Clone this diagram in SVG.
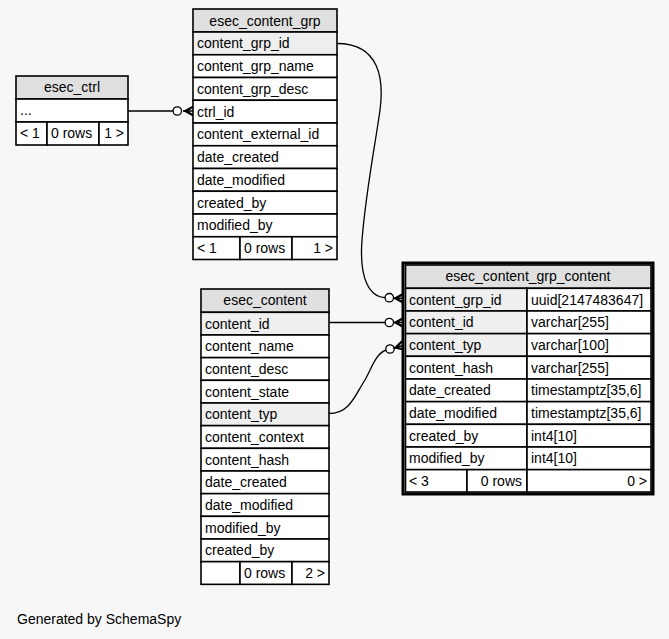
<svg xmlns="http://www.w3.org/2000/svg" xmlns:xlink="http://www.w3.org/1999/xlink" width="669" height="639" viewBox="0 0 669 639">
<style>
text{font-family:"Liberation Sans",Arial,Helvetica,sans-serif;font-size:14px;fill:#000}
.t{text-anchor:middle}
.e{text-anchor:end}
.h{fill:#e0e0e0;stroke:#000;stroke-width:1.6}
.k{fill:#efefef;stroke:#000;stroke-width:1.6}
.c{fill:#fff;stroke:#000;stroke-width:1.6}
.edge{fill:none;stroke:#000;stroke-width:1.3}
.o{fill:#fff;stroke:#000;stroke-width:1.3}
</style>
<defs>
<g id="crow">
<polygon points="-10,0 0,-5.5 0,-3 -5,0 0,3 0,5.5" fill="#000"/>
<line x1="-10" y1="0" x2="0" y2="0" stroke="#000" stroke-width="1.5"/>
</g>
</defs>
<rect x="0" y="0" width="669" height="639" fill="#f7f7f7"/>

<g id="connectors">
<path class="edge" d="M128,111 L177,111"/>
<circle class="o" cx="177.3" cy="111" r="4.2"/>
<use xlink:href="#crow" href="#crow" transform="translate(193,111)"/>

<path class="edge" d="M337,43.5 C380,43.5 384,80 380,110 C376,140 366,190 362,240 C359,280 370,297.5 386,297.7"/>
<circle class="o" cx="389.3" cy="297.7" r="4.2"/>
<use xlink:href="#crow" href="#crow" transform="translate(403,298.2)"/>

<path class="edge" d="M329,322.5 L389,322.5"/>
<circle class="o" cx="389.3" cy="322.5" r="4.2"/>
<use xlink:href="#crow" href="#crow" transform="translate(403,322.5)"/>

<path class="edge" d="M329,413.5 C350,413.5 355,395 365,380 C373,365 377,352 387,350"/>
<circle class="o" cx="390" cy="349" r="4.2"/>
<use xlink:href="#crow" href="#crow" transform="translate(403,345.5) rotate(-16)"/>
</g>

<g id="esec_ctrl">
<rect class="h" x="16" y="76" width="112" height="23"/>
<text class="t" x="72" y="92">esec_ctrl</text>
<rect class="c" x="16" y="99" width="112" height="23"/>
<text x="20" y="115">...</text>
<rect class="c" x="16" y="122" width="31" height="23"/>
<rect class="c" x="47" y="122" width="52" height="23"/>
<rect class="c" x="99" y="122" width="29" height="23"/>
<text x="20" y="138">&lt; 1</text>
<text x="51" y="138">0 rows</text>
<text class="e" x="124" y="138">1 &gt;</text>
</g>

<g id="esec_content_grp">
<rect class="h" x="193" y="9" width="144" height="23"/>
<text class="t" x="265" y="25.5">esec_content_grp</text>
<rect class="k" x="193" y="32" width="144" height="22.75"/>
<text x="197" y="48.4">content_grp_id</text>
<rect class="c" x="193" y="54.75" width="144" height="22.75"/>
<text x="197" y="71.1">content_grp_name</text>
<rect class="c" x="193" y="77.5" width="144" height="22.75"/>
<text x="197" y="93.9">content_grp_desc</text>
<rect class="c" x="193" y="100.25" width="144" height="22.75"/>
<text x="197" y="116.6">ctrl_id</text>
<rect class="c" x="193" y="123" width="144" height="22.75"/>
<text x="197" y="139.4">content_external_id</text>
<rect class="c" x="193" y="145.75" width="144" height="22.75"/>
<text x="197" y="162.1">date_created</text>
<rect class="c" x="193" y="168.5" width="144" height="22.75"/>
<text x="197" y="184.9">date_modified</text>
<rect class="c" x="193" y="191.25" width="144" height="22.75"/>
<text x="197" y="207.6">created_by</text>
<rect class="c" x="193" y="214" width="144" height="22.75"/>
<text x="197" y="230.4">modified_by</text>
<rect class="c" x="193" y="236.75" width="47" height="22.75"/>
<rect class="c" x="240" y="236.75" width="52" height="22.75"/>
<rect class="c" x="292" y="236.75" width="45" height="22.75"/>
<text x="197" y="253.1">&lt; 1</text>
<text x="244" y="253.1">0 rows</text>
<text class="e" x="333" y="253.1">1 &gt;</text>
</g>

<g id="esec_content">
<rect class="h" x="201" y="289" width="128" height="23.3"/>
<text class="t" x="265" y="305.2">esec_content</text>
<rect class="k" x="201" y="312.3" width="128" height="22.67"/>
<text x="205" y="328.6">content_id</text>
<rect class="c" x="201" y="334.97" width="128" height="22.67"/>
<text x="205" y="351.3">content_name</text>
<rect class="c" x="201" y="357.64" width="128" height="22.67"/>
<text x="205" y="374">content_desc</text>
<rect class="c" x="201" y="380.31" width="128" height="22.67"/>
<text x="205" y="396.6">content_state</text>
<rect class="k" x="201" y="402.98" width="128" height="22.67"/>
<text x="205" y="419.3">content_typ</text>
<rect class="c" x="201" y="425.65" width="128" height="22.67"/>
<text x="205" y="442">content_context</text>
<rect class="c" x="201" y="448.32" width="128" height="22.67"/>
<text x="205" y="464.7">content_hash</text>
<rect class="c" x="201" y="470.99" width="128" height="22.67"/>
<text x="205" y="487.3">date_created</text>
<rect class="c" x="201" y="493.66" width="128" height="22.67"/>
<text x="205" y="510">date_modified</text>
<rect class="c" x="201" y="516.33" width="128" height="22.67"/>
<text x="205" y="532.7">modified_by</text>
<rect class="c" x="201" y="539" width="128" height="22.67"/>
<text x="205" y="555.3">created_by</text>
<rect class="c" x="201" y="561.67" width="39" height="22.67"/>
<rect class="c" x="240" y="561.67" width="52" height="22.67"/>
<rect class="c" x="292" y="561.67" width="37" height="22.67"/>
<text x="244" y="578">0 rows</text>
<text class="e" x="325" y="578">2 &gt;</text>
</g>

<g id="esec_content_grp_content">
<rect x="403" y="263" width="250" height="231" fill="#fff" stroke="#000" stroke-width="3"/>
<rect class="h" x="405.5" y="265" width="245.5" height="23.3"/>
<text class="t" x="528" y="281.2">esec_content_grp_content</text>
<rect class="k" x="405.5" y="288.3" width="121.5" height="22.67"/>
<rect class="c" x="527" y="288.3" width="124" height="22.67"/>
<text x="409" y="304.6">content_grp_id</text>
<text x="531" y="304.6">uuid[2147483647]</text>
<rect class="k" x="405.5" y="310.97" width="121.5" height="22.67"/>
<rect class="c" x="527" y="310.97" width="124" height="22.67"/>
<text x="409" y="327.3">content_id</text>
<text x="531" y="327.3">varchar[255]</text>
<rect class="k" x="405.5" y="333.64" width="121.5" height="22.67"/>
<rect class="c" x="527" y="333.64" width="124" height="22.67"/>
<text x="409" y="350">content_typ</text>
<text x="531" y="350">varchar[100]</text>
<rect class="c" x="405.5" y="356.31" width="121.5" height="22.67"/>
<rect class="c" x="527" y="356.31" width="124" height="22.67"/>
<text x="409" y="372.6">content_hash</text>
<text x="531" y="372.6">varchar[255]</text>
<rect class="c" x="405.5" y="378.98" width="121.5" height="22.67"/>
<rect class="c" x="527" y="378.98" width="124" height="22.67"/>
<text x="409" y="395.3">date_created</text>
<text x="531" y="395.3">timestamptz[35,6]</text>
<rect class="c" x="405.5" y="401.65" width="121.5" height="22.67"/>
<rect class="c" x="527" y="401.65" width="124" height="22.67"/>
<text x="409" y="418">date_modified</text>
<text x="531" y="418">timestamptz[35,6]</text>
<rect class="c" x="405.5" y="424.32" width="121.5" height="22.67"/>
<rect class="c" x="527" y="424.32" width="124" height="22.67"/>
<text x="409" y="440.6">created_by</text>
<text x="531" y="440.6">int4[10]</text>
<rect class="c" x="405.5" y="446.99" width="121.5" height="22.67"/>
<rect class="c" x="527" y="446.99" width="124" height="22.67"/>
<text x="409" y="463.3">modified_by</text>
<text x="531" y="463.3">int4[10]</text>
<rect class="c" x="405.5" y="469.66" width="61.5" height="22.34"/>
<rect class="c" x="467" y="469.66" width="60" height="22.34"/>
<rect class="c" x="527" y="469.66" width="124" height="22.34"/>
<text x="409" y="486">&lt; 3</text>
<text class="e" x="522" y="486">0 rows</text>
<text class="e" x="647" y="486">0 &gt;</text>
</g>

<text x="17" y="624">Generated by SchemaSpy</text>
</svg>
